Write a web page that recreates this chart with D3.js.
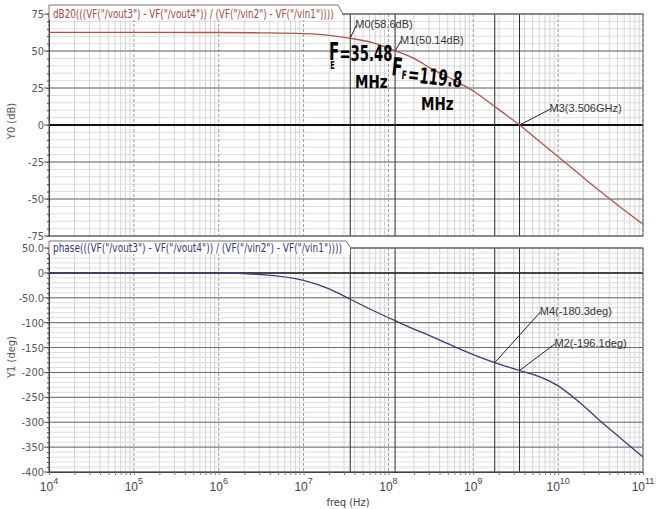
<!DOCTYPE html>
<html>
<head>
<meta charset="utf-8">
<script src="https://cdn.jsdelivr.net/npm/d3@7"></script>
<style>
  body { margin: 0; background: #fff; }
  svg { display: block; font-family: "DejaVu Sans Condensed", "Liberation Sans Narrow", "Liberation Sans", sans-serif; }
</style>
</head>
<body>
<svg id="chart" width="666" height="509"></svg>
<script>
// data
var freqs    = [1e4, 1e5, 1e6, 3.16e6, 1e7, 2e7, 3.548e7, 6.31e7, 1.198e8, 2e8, 3.16e8, 5.62e8, 1e9, 1.79e9, 3.506e9, 6.31e9, 1e10, 1.78e10, 3.16e10, 5.62e10, 1e11];
var magDb    = [62.6, 62.6, 62.5, 62.3, 61.7, 60.6, 58.6, 55.8, 50.14, 45, 38.3, 31, 23, 12.5, 0, -12, -21.5, -33.3, -45, -56.3, -67];
var phaseDeg = [0, 0, -0.6, -3.5, -15, -32, -53, -74, -96, -113, -127, -146, -164, -180.3, -196.1, -210, -227, -260, -298, -334, -370];

var magTicks   = [75, 50, 25, 0, -25, -50, -75];
var phaseTicks = [50, 0, -50, -100, -150, -200, -250, -300, -350, -400];
var phaseTickLabels = ["50.0", "0", "-50.0", "-100", "-150", "-200", "-250", "-300", "-350", "-400"];

var markerNames  = ["M0", "M1", "M3", "M4", "M2"];
var markerFreqs  = [3.548e7, 1.198e8, 3.506e9, 1.79e9, 3.506e9];
var markerValues = [58.6, 50.14, 0, -180.3, -196.1];
var markerTexts  = ["M0(58.6dB)", "M1(50.14dB)", "M3(3.506GHz)", "M4(-180.3deg)", "M2(-196.1deg)"];
var markerPanel  = ["mag", "mag", "mag", "phase", "phase"];
var cursorFreqs  = [3.548e7, 1.198e8, 1.79e9, 3.506e9]; // vertical marker lines

var magTitle   = 'dB20(((VF("/vout3") - VF("/vout4")) / (VF("/vin2") - VF("/vin1"))))';
var phaseTitle = 'phase(((VF("/vout3") - VF("/vout4")) / (VF("/vin2") - VF("/vin1"))))';

// layout
var left = 49, right = 643;
var svg = d3.select("#chart");
var x = d3.scaleLog().domain([1e4, 1e11]).range([left, right]);
var yMag = d3.scaleLinear().domain([-75, 75]).range([236, 14]);
var yPh  = d3.scaleLinear().domain([-400, 50]).range([472, 248]);

//grid + frame of one panel
function drawPanel(y, major, minorStep, zeroWidth) {
    var g = svg.append("g");
    var d = y.domain(), top = y.range()[1], bot = y.range()[0];

    //minor horizontal lines
    g.selectAll(".hmin").data(d3.range(d[0], d[1] + 0.01, minorStep)).enter().append("line")
        .attr("x1", left).attr("x2", right)
        .attr("y1", function (v) { return y(v); }).attr("y2", function (v) { return y(v); })
        .attr("stroke", "#dcdcdc").attr("stroke-width", 1);

    //minor vertical lines and dashed decade lines
    x.ticks().forEach(function (f) {
        var isDecade = Math.abs(Math.log10(f) - Math.round(Math.log10(f))) < 1e-6;
        g.append("line")
            .attr("x1", x(f)).attr("x2", x(f)).attr("y1", top).attr("y2", bot)
            .attr("stroke", isDecade ? "#9a9a9a" : "#d4d4d4")
            .attr("stroke-dasharray", isDecade ? "3,2" : null);
    });

    //major horizontal lines
    g.selectAll(".hmaj").data(major).enter().append("line")
        .attr("x1", left).attr("x2", right)
        .attr("y1", function (v) { return y(v); }).attr("y2", function (v) { return y(v); })
        .attr("stroke", function (v) { return v === 0 ? "#111" : "#6a6a6a"; })
        .attr("stroke-width", function (v) { return v === 0 ? zeroWidth : 1; });

    //marker cursors
    g.selectAll(".cur").data(cursorFreqs).enter().append("line")
        .attr("x1", function (f) { return x(f); }).attr("x2", function (f) { return x(f); })
        .attr("y1", top).attr("y2", bot)
        .attr("stroke", "#2a2a2a").attr("stroke-width", 1);

    //frame
    g.append("rect").attr("x", left).attr("y", top).attr("width", right - left).attr("height", bot - top)
        .attr("fill", "none").attr("stroke", "#666");

    //left axis with small minor ticks
    var ax = g.append("g").attr("transform", "translate(" + left + ",0)")
        .call(d3.axisLeft(y).tickValues(d3.range(d[0], d[1] + 0.01, minorStep)).tickSize(2).tickFormat(""));
    ax.select(".domain").attr("stroke", "#444");
    ax.selectAll(".tick line").attr("stroke", "#444");
    return g;
}

drawPanel(yMag, magTicks, 5, 2);
drawPanel(yPh, phaseTicks, 10, 1.5);

//tick labels
function tickLabels(y, vals, labels) {
    var g = svg.append("g").attr("font-size", 11).attr("fill", "#555");
    vals.forEach(function (v, i) {
        g.append("text").attr("x", 44).attr("y", y(v) + 4).attr("text-anchor", "end").text(labels[i]);
        g.append("line").attr("x1", 44).attr("x2", left).attr("y1", y(v)).attr("y2", y(v)).attr("stroke", "#555");
    });
}
tickLabels(yMag, magTicks, magTicks.map(String));
tickLabels(yPh, phaseTicks, phaseTickLabels);

//bottom axis ticks and labels
var xb = svg.append("g").attr("transform", "translate(0,472)")
    .call(d3.axisBottom(x).tickSize(3).tickFormat(""));
xb.select(".domain").attr("stroke", "#444");
xb.selectAll(".tick line").attr("stroke", "#777");

var decades = d3.range(4, 12);
decades.forEach(function (p) {
    var t = svg.append("text").attr("x", x(Math.pow(10, p))).attr("y", 491)
        .attr("text-anchor", "middle").attr("font-size", 12).attr("fill", "#444")
        .attr("font-family", "Liberation Sans, sans-serif");
    t.append("tspan").text("10");
    t.append("tspan").attr("dy", -7).attr("font-size", 9).text(p);
});

svg.append("text").attr("x", 348).attr("y", 506).attr("text-anchor", "middle")
    .attr("font-size", 11).attr("fill", "#444").text("freq (Hz)");
svg.append("text").attr("transform", "translate(15,121) rotate(-90)").attr("text-anchor", "middle")
    .attr("font-size", 11).attr("fill", "#555").text("Y0 (dB)");
svg.append("text").attr("transform", "translate(15,357) rotate(-90)").attr("text-anchor", "middle")
    .attr("font-size", 11).attr("fill", "#555").text("Y1 (deg)");

//curves
var magLine = d3.line().curve(d3.curveMonotoneX)
    .x(function (d, i) { return x(freqs[i]); }).y(function (d) { return yMag(d); });
var phLine = d3.line().curve(d3.curveMonotoneX)
    .x(function (d, i) { return x(freqs[i]); }).y(function (d) { return yPh(d); });

svg.append("path").attr("d", magLine(magDb)).attr("fill", "none").attr("stroke", "#b0544a").attr("stroke-width", 1.3);
svg.append("path").attr("d", phLine(phaseDeg)).attr("fill", "none").attr("stroke", "#3c3c78").attr("stroke-width", 1.3);

//title tabs, text squeezed to fit the tab
function tab(yTop, yPanel, xEnd, txt, color) {
    svg.append("rect").attr("x", left).attr("y", yTop).attr("width", xEnd - left).attr("height", yPanel - yTop + 6)
        .attr("fill", "#fff");
    svg.append("path").attr("d", "M" + left + "," + (yPanel + 6) + "V" + yTop + "H" + (xEnd - 4) + "L" + (xEnd + 1) + "," + yPanel)
        .attr("fill", "none").attr("stroke", "#777");
    var t = svg.append("text").attr("font-size", 11.5).attr("fill", color).text(txt);
    var k = (xEnd - left - 12) / t.node().getComputedTextLength();
    t.attr("transform", "translate(" + (left + 4) + "," + (yPanel + 4) + ") scale(" + k + ",1)");
}
tab(5, 14, 342, magTitle, "#a8463e");
tab(241, 248, 350, phaseTitle, "#34347e");

//marker labels
var markerOffsets = [[6, -13], [6, -10], [31, -16], [46, -51], [36, -27]];
markerNames.forEach(function (n, i) {
    var y = markerPanel[i] === "mag" ? yMag : yPh;
    var px = x(markerFreqs[i]), py = y(markerValues[i]);
    var ex = px + markerOffsets[i][0], ey = py + markerOffsets[i][1];
    svg.append("line").attr("x1", px).attr("y1", py).attr("x2", ex).attr("y2", ey)
        .attr("stroke", "#222").attr("stroke-width", 1);
    svg.append("text").attr("x", ex - 1).attr("y", ey + 3).attr("font-size", 11).attr("fill", "#333")
        .attr("font-family", "Liberation Sans, sans-serif").text(markerTexts[i]);
});

//hand written notes, squeezed sideways like the pen strokes
var hand = svg.append("g").attr("fill", "#000").attr("font-weight", "bold")
    .attr("font-family", "DejaVu Sans, sans-serif");
var n1 = hand.append("text").attr("transform", "translate(329,60) scale(0.6,1)");
n1.append("tspan").attr("font-size", 25).text("F");
n1.append("tspan").attr("font-size", 11).attr("dx", -15).attr("dy", 9).text("E");
n1.append("tspan").attr("font-size", 22).attr("dx", 8).attr("dy", -8).text("=35.48");
hand.append("text").attr("transform", "translate(355,88) scale(0.75,1)").attr("font-size", 18).text("MHz");
var n2 = hand.append("text").attr("transform", "translate(391,75) rotate(6) scale(0.62,1)");
n2.append("tspan").attr("font-size", 25).text("F");
n2.append("tspan").attr("font-size", 12).attr("dx", 0).attr("dy", 3).text("F");
n2.append("tspan").attr("font-size", 22).attr("dx", 2).attr("dy", 2).text("=119.8");
hand.append("text").attr("transform", "translate(421,110) scale(0.75,1)").attr("font-size", 18).text("MHz");
</script>
</body>
</html>
